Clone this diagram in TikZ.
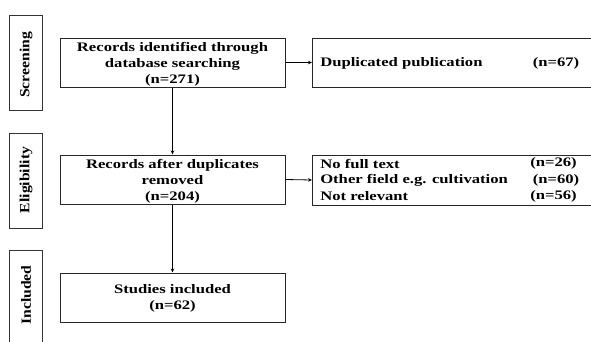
\documentclass[tikz,border=0pt]{standalone}
\usepackage{fontspec}
\setmainfont{Liberation Serif}
\usetikzlibrary{arrows.meta}
\begin{document}
\begin{tikzpicture}[x=1pt,y=-1pt,
  box/.style={draw=black!85,line width=1pt,inner sep=0pt},
  side/.style={draw=black!80,line width=0.9pt,inner sep=0pt,rotate=90},
  sidetxt/.style={rotate=90,xscale=1.12,font=\bfseries\fontsize{14}{14}\selectfont},
  txt/.style={xscale=1.28,font=\bfseries\fontsize{13}{16}\selectfont,align=center,inner sep=0pt},
  ltxt/.style={xscale=1.28,font=\bfseries\fontsize{13}{16}\selectfont,inner sep=0pt},
  arr/.style={line width=0.8pt,-{Stealth[length=4pt,width=3.5pt]}}]
\useasboundingbox (0,0) rectangle (591,341);
\clip (0,0) rectangle (591,341);
% side labels
\node[side,minimum width=95,minimum height=33] (s1) at (25.5,62.5) {};
\node[sidetxt] (s1t) at (26,65) {Screening};
\node[side,minimum width=95,minimum height=33] (s2) at (25.5,180.5) {};
\node[sidetxt] (s2t) at (26,180) {Eligibility};
\node[side,minimum width=100,minimum height=33] (s3) at (25.5,300) {};
\node[sidetxt] (s3t) at (26,295) {Included};
% main boxes
\node[box,minimum width=225,minimum height=49] (b1) at (172.5,62.5) {};
\node[txt] (b1t) at (172.5,64) {Records identified through\\database searching\\(n=271)};
\node[box,minimum width=225,minimum height=49] (b2) at (172.5,179.5) {};
\node[txt] (b2t) at (172.5,181) {Records after duplicates\\removed\\(n=204)};
\node[box,minimum width=225,minimum height=49] (b3) at (172.5,297.5) {};
\node[txt] (b3t) at (172.5,298) {Studies included\\(n=62)};
% right boxes
\node[box,minimum width=290,minimum height=49,anchor=west] (d1) at (312,62.5) {};
\node[ltxt,anchor=west] (d1a) at (320,63) {Duplicated publication};
\node[ltxt] (d1b) at (556,63) {(n=67)};
\node[box,minimum width=290,minimum height=50,anchor=west] (d2) at (312,180) {};
\node[ltxt,anchor=west] (d2a) at (320,163.5) {No full text};
\node[ltxt,anchor=west] (d2b) at (320,180) {Other field e.g. cultivation};
\node[ltxt,anchor=west] (d2c) at (320,196.5) {Not relevant};
\node[ltxt] (d2d) at (553.5,163.5) {(n=26)};
\node[ltxt] (d2e) at (556,180) {(n=60)};
\node[ltxt] (d2f) at (553.5,196.5) {(n=56)};
% arrows
\draw[arr] (b1.south) -- (b2.north);
\draw[arr] (b2.south) -- (b3.north);
\draw[arr] (b1.east) -- (d1.west);
\draw[arr] (b2.east) -- (d2.west);
\end{tikzpicture}
\end{document}
